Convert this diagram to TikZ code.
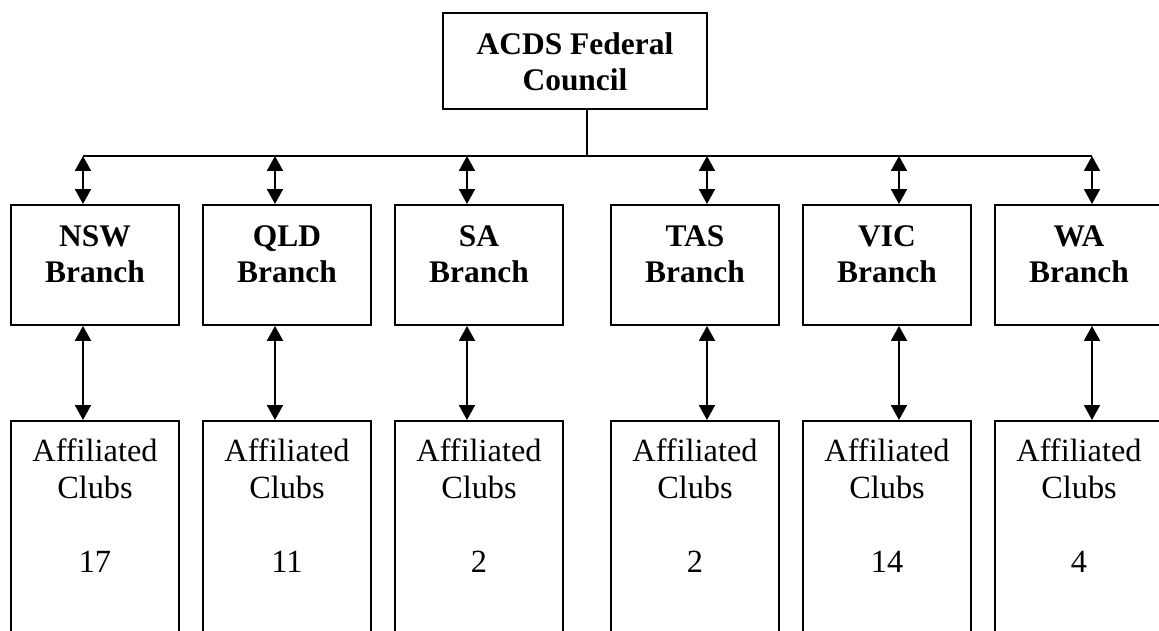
\documentclass[tikz,border=0pt]{standalone}
\usepackage{fontspec}
\setmainfont{Liberation Serif}
\usetikzlibrary{arrows.meta}

\begin{document}
\begin{tikzpicture}[x=0.02cm,y=-0.02cm,box/.style={draw=black,line width=1.1pt,inner xsep=0pt,inner ysep=0pt,align=center,anchor=north,font=\fontsize{18.4}{21}\selectfont},council/.style={box,minimum width=5.28cm,text height=1.56cm,text depth=0.36cm,font=\fontsize{17.9}{21}\selectfont\bfseries},branch/.style={box,minimum width=3.36cm,text height=1.56cm,text depth=0.84cm,font=\fontsize{17.9}{21}\selectfont\bfseries},clubs/.style={box,minimum width=3.36cm,text height=3.04cm,text depth=2cm},link/.style={line width=1.1pt},twoway/.style={link,{Triangle[width=0.32cm,length=0.3cm]}-{Triangle[width=0.32cm,length=0.3cm]}}]
\def\by{156};
\def\ty{204};
\def\cy{420};

\useasboundingbox (0,0) rectangle (1159,631);
\clip (0,0) rectangle (1159,631);

\node[council] (fed) at (575,12) {ACDS Federal\\Council};

\node[branch] (nsw) at (95,\ty) {NSW\\Branch};
\node[branch] (qld) at (287,\ty) {QLD\\Branch};
\node[branch] (sa) at (479,\ty) {SA\\Branch};
\node[branch] (tas) at (695,\ty) {TAS\\Branch};
\node[branch] (vic) at (887,\ty) {VIC\\Branch};
\node[branch] (wa) at (1079,\ty) {WA\\Branch};

\node[clubs] (cnsw) at (95,\cy) {Affiliated\\Clubs\\[0.76cm]17};
\node[clubs] (cqld) at (287,\cy) {Affiliated\\Clubs\\[0.76cm]11};
\node[clubs] (csa) at (479,\cy) {Affiliated\\Clubs\\[0.76cm]2};
\node[clubs] (ctas) at (695,\cy) {Affiliated\\Clubs\\[0.76cm]2};
\node[clubs] (cvic) at (887,\cy) {Affiliated\\Clubs\\[0.76cm]14};
\node[clubs] (cwa) at (1079,\cy) {Affiliated\\Clubs\\[0.76cm]4};

% bus line under the council
\coordinate (bus) at (587,\by);
\coordinate (tnsw) at (83,\by);
\coordinate (tqld) at (275,\by);
\coordinate (tsa) at (467,\by);
\coordinate (ttas) at (707,\by);
\coordinate (tvic) at (899,\by);
\coordinate (twa) at (1092,\by);
\draw[link] (fed.south -| bus) -- (bus);
\draw[link] (tnsw) -- (twa);

\draw[twoway] (tnsw) -- (tnsw |- nsw.north);
\draw[twoway] (tqld) -- (tqld |- qld.north);
\draw[twoway] (tsa) -- (tsa |- sa.north);
\draw[twoway] (ttas) -- (ttas |- tas.north);
\draw[twoway] (tvic) -- (tvic |- vic.north);
\draw[twoway] (twa) -- (twa |- wa.north);

\draw[twoway] (tnsw |- nsw.south) -- (tnsw |- cnsw.north);
\draw[twoway] (tqld |- qld.south) -- (tqld |- cqld.north);
\draw[twoway] (tsa |- sa.south) -- (tsa |- csa.north);
\draw[twoway] (ttas |- tas.south) -- (ttas |- ctas.north);
\draw[twoway] (tvic |- vic.south) -- (tvic |- cvic.north);
\draw[twoway] (twa |- wa.south) -- (twa |- cwa.north);
\end{tikzpicture}
\end{document}
